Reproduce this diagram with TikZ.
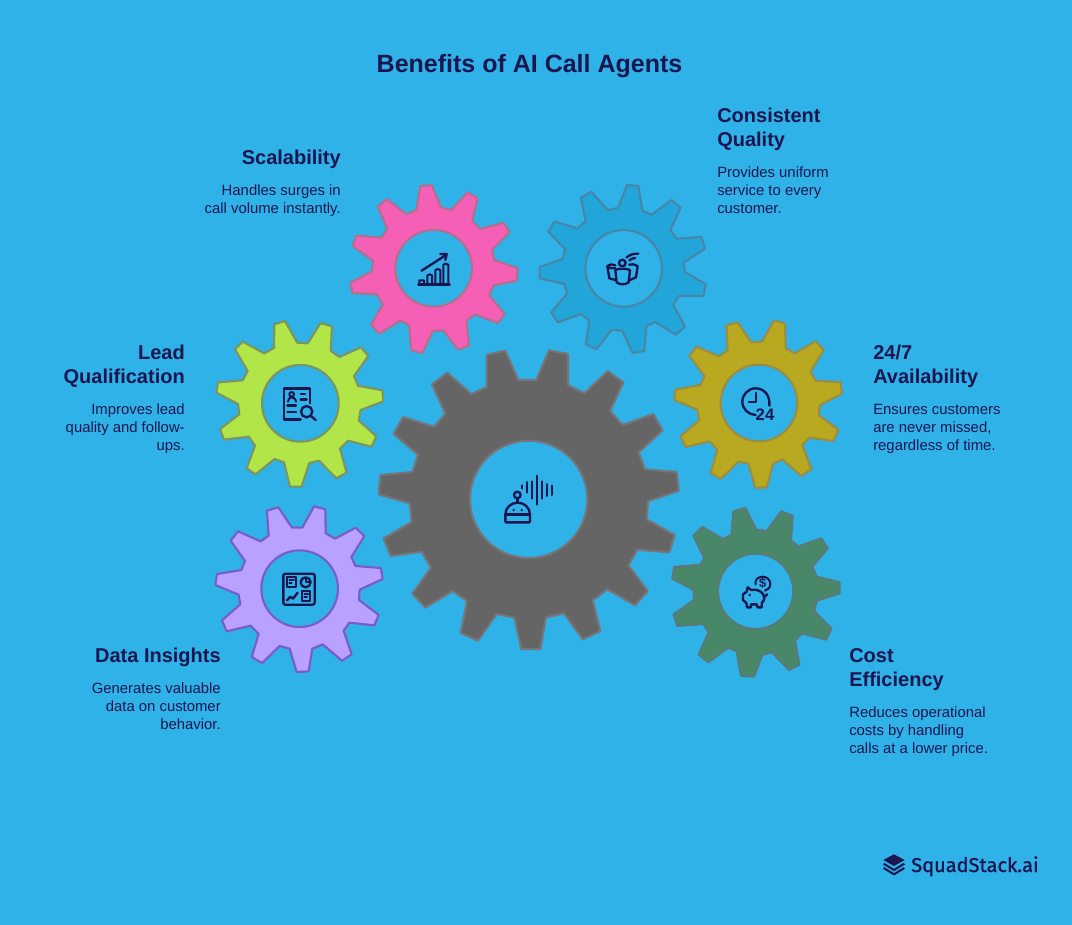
\documentclass[tikz,border=0pt]{standalone}
\usepackage{fontspec}
\setmainfont{Liberation Sans}
\newfontfamily\logofont{Fira Sans}[FakeBold=1.2]
\definecolor{bgblue}{HTML}{2EB2E8}
\definecolor{ink}{HTML}{1C1650}
\tikzset{
  pic scale/.style={shift={#1},scale=1/3},
  gearline/.style={line width=1.6pt,line join=round},
  holeline/.style={fill=bgblue,line width=1.6pt},
  ic/.style={draw=ink,line width=1.75pt,line cap=round,line join=round},
  icthin/.style={draw=ink,line width=1.5pt,line cap=round,line join=round},
  headr/.style={anchor=base east,align=right,inner sep=0pt,text=ink,font=\fontsize{15}{18}\selectfont\bfseries},
  headl/.style={anchor=base west,align=left,inner sep=0pt,text=ink,font=\fontsize{15}{18}\selectfont\bfseries},
  descr/.style={anchor=base east,align=right,inner sep=0pt,text=ink,font=\fontsize{11.15}{13.5}\selectfont},
  descl/.style={anchor=base west,align=left,inner sep=0pt,text=ink,font=\fontsize{11.15}{13.5}\selectfont},
}
\begin{document}
\begin{tikzpicture}[x=0.75pt,y=-0.75pt]
\useasboundingbox (0,0) rectangle (1072,925);
\fill[bgblue] (0,0) rectangle (1072,925);

% central gray gear
\begin{scope}[pic scale={(370,340)}]
\draw[gearline,fill={rgb,255:red,101;green,101;blue,101},draw={rgb,255:red,118;green,118;blue,122}]
(350,44)--(406,32)--(445,120)--(499,120)--(537,31)--(594,42)--(594,135)--(643,160)--(713,93)--(760,127)--(720,213)--(758,255)--(850,222)--(878,271)--(806,337)--(825,388)--(920,396)--(926,452)--(834,484)--(830,538)--(914,585)--(898,637)--(802,629)--(775,676)--(833,753)--(795,796)--(712,748)--(668,781)--(691,873)--(638,898)--(582,820)--(528,832)--(511,927)--(454,927)--(433,833)--(380,822)--(324,902)--(272,879)--(291,783)--(248,753)--(166,803)--(127,761)--(183,683)--(155,635)--(62,648)--(41,595)--(125,546)--(119,490)--(26,463)--(31,405)--(127,396)--(144,344)--(71,282)--(99,231)--(192,260)--(226,221)--(186,133)--(232,98)--(304,162)--(350,141)--cycle;
\draw[holeline,draw={rgb,255:red,118;green,118;blue,122}] (476,478) circle[radius=176];
% robot
\draw[ic] (406,544)--(406,524) .. controls (406,503) and (423,488) .. (443,488) .. controls (463,488) and (480,503) .. (480,524)--(480,544)--(478,547)--(408,547)--cycle;
\draw[ic] (406,523)--(480,523);
\draw[ic] (442,465) circle[radius=10];
\draw[ic] (442,475)--(442,488);
\fill[ink] (431,510) circle[radius=4] (455,510) circle[radius=4];
\draw[icthin] (455,436)--(455,446) (470,426)--(470,458) (485,424)--(485,476) (500,407)--(500,494) (515,424)--(515,476) (531,432)--(531,468) (546,437)--(546,465);
\end{scope}

% pink gear
\begin{scope}[pic scale={(340,170)}]
\draw[gearline,fill={rgb,255:red,245;green,95;blue,181},draw={rgb,255:red,178;green,112;blue,140}]
(241,48)--(275,45)--(303,112)--(333,120)--(383,67)--(413,84)--(397,153)--(420,177)--(491,158)--(508,187)--(456,239)--(463,270)--(533,295)--(530,332)--(461,346)--(447,375)--(494,432)--(473,459)--(405,433)--(379,453)--(387,527)--(354,539)--(310,481)--(279,483)--(247,549)--(214,541)--(207,466)--(181,452)--(118,491)--(93,464)--(129,403)--(111,373)--(37,369)--(31,338)--(96,304)--(99,272)--(38,228)--(49,197)--(125,203)--(142,177)--(113,109)--(141,87)--(199,133)--(229,120)--cycle;
\draw[holeline,draw={rgb,255:red,178;green,112;blue,140}] (281,295) circle[radius=115];
\draw[ic] (235,343)--(329,343);
\draw[icthin] (238,343)--(238,331)--(252,331)--(252,343) (262,343)--(262,316)--(269,313)--(276,316)--(276,343) (286,343)--(286,300)--(293,297)--(301,300)--(301,343) (310,343)--(310,284)--(317,281)--(325,284)--(325,343);
\draw[ic] (245,302)--(318,255) (301,252)--(320,252)--(316,270);
\end{scope}

% blue gear
\begin{scope}[pic scale={(530,170)}]
\draw[gearline,fill={rgb,255:red,34;green,166;blue,218},draw={rgb,255:red,72;green,134;blue,168}]
(291,45)--(325,48)--(337,122)--(365,134)--(425,90)--(452,113)--(421,180)--(440,206)--(514,201)--(525,236)--(462,277)--(464,306)--(528,343)--(520,378)--(446,378)--(430,405)--(465,470)--(437,494)--(376,456)--(349,468)--(343,543)--(308,549)--(277,483)--(245,479)--(199,538)--(168,523)--(178,451)--(152,432)--(84,457)--(64,427)--(111,371)--(103,342)--(29,325)--(29,291)--(98,267)--(106,238)--(55,185)--(73,155)--(143,175)--(167,153)--(153,83)--(184,65)--(233,120)--(264,114)--cycle;
\draw[holeline,draw={rgb,255:red,72;green,134;blue,168}] (281,295) circle[radius=115];
\draw[ic] (256,300) .. controls (265,295) and (290,295) .. (300,300)--(296,337) .. controls (285,345) and (270,345) .. (260,337)--cycle;
\draw[ic] (277,279) circle[radius=10];
\draw[ic] (256,286) .. controls (248,281) and (238,283) .. (232,288)--(238,325)--(256,330);
\draw[ic] (232,290) .. controls (240,296) and (248,296) .. (256,294);
\draw[ic] (298,284) .. controls (305,281) and (315,283) .. (323,288)--(318,322)--(300,330);
\draw[ic] (290,262) .. controls (300,254) and (312,250) .. (325,251);
\draw[ic] (298,271) .. controls (303,267) and (310,264) .. (316,264);
\end{scope}

% lime gear
\begin{scope}[pic scale={(210,315)}]
\draw[gearline,fill={rgb,255:red,178;green,230;blue,72},draw={rgb,255:red,124;green,149;blue,96}]
(193,28)--(225,18)--(262,83)--(293,85)--(332,24)--(366,34)--(362,107)--(388,126)--(453,97)--(475,123)--(432,183)--(444,212)--(517,226)--(520,259)--(452,285)--(446,316)--(499,364)--(485,395)--(414,377)--(390,401)--(410,473)--(379,490)--(327,437)--(298,444)--(275,515)--(240,515)--(222,442)--(194,432)--(137,478)--(110,460)--(135,392)--(116,365)--(42,374)--(30,342)--(88,298)--(84,267)--(19,233)--(24,202)--(98,196)--(113,168)--(75,103)--(98,80)--(163,115)--(192,99)--cycle;
\draw[holeline,draw={rgb,255:red,124;green,149;blue,96}] (271,265) circle[radius=115];
\draw[ic] (300,265)--(300,220)--(222,220)--(222,313)--(272,313);
\draw[icthin] (245,238) circle[radius=7];
\draw[icthin] (234,260) .. controls (236,250) and (240,247) .. (245,247) .. controls (251,247) and (256,250) .. (258,260);
\draw[ic] (272,237)--(285,237) (272,253)--(290,253) (232,271)--(258,271) (232,290)--(258,290);
\draw[ic] (290,290) circle[radius=17];
\draw[ic] (303,303)--(317,315);
\end{scope}

% yellow and green gears
\begin{scope}[pic scale={(665,315)}]
\draw[gearline,fill={rgb,255:red,185;green,169;blue,32},draw={rgb,255:red,154;green,140;blue,68}]
(184,31)--(218,22)--(259,82)--(291,80)--(327,17)--(360,25)--(362,100)--(389,115)--(452,79)--(476,105)--(437,169)--(451,197)--(527,202)--(531,236)--(465,270)--(461,300)--(520,344)--(505,378)--(432,368)--(412,391)--(439,462)--(409,483)--(352,433)--(324,446)--(305,517)--(271,519)--(250,446)--(220,440)--(167,492)--(137,474)--(157,405)--(134,379)--(62,396)--(47,364)--(103,315)--(97,284)--(28,255)--(31,224)--(107,210)--(118,183)--(73,122)--(95,95)--(162,124)--(188,105)--cycle;
\draw[holeline,draw={rgb,255:red,154;green,140;blue,68}] (282,264) circle[radius=115];
\draw[ic] (313,272) .. controls (316,242) and (298,220) .. (272,220) .. controls (250,220) and (232,238) .. (232,260) .. controls (232,282) and (250,299) .. (272,300);
\draw[ic] (272,234)--(272,260)--(251,260);
\node[inner sep=0pt,text=ink,font=\fontsize{12.5}{14}\selectfont\bfseries] (clock24) at (300,299) {24};
\draw[gearline,fill={rgb,255:red,72;green,136;blue,105},draw={rgb,255:red,90;green,122;blue,122}]
(205,589)--(241,579)--(274,644)--(305,648)--(349,589)--(383,603)--(378,677)--(400,694)--(469,670)--(488,700)--(442,755)--(455,785)--(524,802)--(524,835)--(456,857)--(447,887)--(499,941)--(483,974)--(411,955)--(390,977)--(403,1049)--(372,1065)--(321,1012)--(292,1019)--(267,1085)--(228,1082)--(215,1009)--(190,998)--(130,1042)--(101,1019)--(131,951)--(115,927)--(37,933)--(26,898)--(87,855)--(86,825)--(22,791)--(27,756)--(106,749)--(118,729)--(85,662)--(112,636)--(174,672)--(199,660)--cycle;
\draw[holeline,draw={rgb,255:red,90;green,122;blue,122}] (272,829) circle[radius=113];
% piggy
\draw[icthin] (272,808) .. controls (268,795) and (280,785) .. (293,785) .. controls (307,785) and (316,796) .. (316,807) .. controls (316,817) and (309,825) .. (300,827);
\node[inner sep=0pt,text=ink,font=\fontsize{9.5}{10}\selectfont\bfseries] (coin) at (293,806) {\$};
\draw[ic] (248,817)--(259,825) .. controls (275,820) and (298,830) .. (298,850) .. controls (298,856) and (293,862) .. (290,864)--(290,877)--(278,877)--(275,868)--(258,868)--(258,877)--(246,877)--(244,864)--(234,855)--(234,838)--(245,830)--cycle;
\draw[ic] (299,845)--(307,838);
\fill[ink] (254,840) circle[radius=4];
\end{scope}

% purple gear
\begin{scope}[pic scale={(210,498)}]
\draw[gearline,fill={rgb,255:red,185;green,162;blue,255},draw={rgb,255:red,122;green,92;blue,200}]
(171,38)--(205,28)--(246,89)--(277,89)--(312,25)--(346,34)--(347,106)--(375,122)--(437,89)--(463,114)--(424,177)--(436,204)--(512,210)--(518,243)--(449,275)--(447,306)--(506,351)--(493,382)--(418,374)--(401,398)--(425,469)--(396,488)--(338,439)--(307,452)--(296,520)--(260,522)--(239,452)--(209,444)--(156,495)--(125,477)--(146,408)--(122,383)--(50,400)--(36,367)--(91,319)--(86,290)--(16,261)--(21,228)--(94,216)--(105,189)--(62,128)--(84,100)--(152,130)--(176,113)--cycle;
\draw[holeline,draw={rgb,255:red,122;green,92;blue,200}] (269,272) circle[radius=115];
\draw[ic,rounded corners=1.5pt] (220,227) rectangle (314,320);
\draw[icthin] (232,238) rectangle (258,268);
\draw[icthin] (238,247)--(252,247) (238,255)--(245,255);
\draw[ic] (287,253) circle[radius=15];
\draw[icthin] (287,240)--(287,253)--(301,253);
\draw[ic] (231,307)--(241,296)--(249,302)--(263,284);
\draw[icthin] (277,278) rectangle (301,308);
\draw[icthin] (283,288)--(295,288) (283,297)--(291,297);
\end{scope}

% texts
\node[inner sep=0pt,anchor=base,text=ink,font=\fontsize{18.75}{23}\selectfont\bfseries] (title) at (529.5,72) {Benefits of AI Call Agents};

\node[headr] (h1) at (341,164) {Scalability};
\node[descr] (d1) at (341,213) {Handles surges in\\call volume instantly.};
\node[headl] (h2) at (717,146) {Consistent\\Quality};
\node[descl] (d2) at (717,213) {Provides uniform\\service to every\\customer.};
\node[headr] (h3) at (185,383) {Lead\\Qualification};
\node[descr] (d3) at (185,450) {Improves lead\\quality and follow-\\ups.};
\node[headl] (h4) at (873,383) {24/7\\Availability};
\node[descl] (d4) at (873,450) {Ensures customers\\are never missed,\\regardless of time.};
\node[headr] (h5) at (221,662) {Data Insights};
\node[descr] (d5) at (221,729) {Generates valuable\\data on customer\\behavior.};
\node[headl] (h6) at (849,686) {Cost\\Efficiency};
\node[descl] (d6) at (849,753) {Reduces operational\\costs by handling\\calls at a lower price.};

% logo
\begin{scope}[pic scale={(870,840)}]
\fill[ink] (40,60)--(72,43)--(104,60)--(72,78)--cycle;
\draw[ink,line width=1.5pt,line join=round] (41,71)--(72,90)--(103,71) (41,84)--(72,103)--(103,84);
\end{scope}
\node[inner sep=0pt,anchor=base west,text=ink,font=\logofont\fontsize{15}{17}\selectfont] (logo) at (911,872) {SquadStack.ai};
\end{tikzpicture}
\end{document}
